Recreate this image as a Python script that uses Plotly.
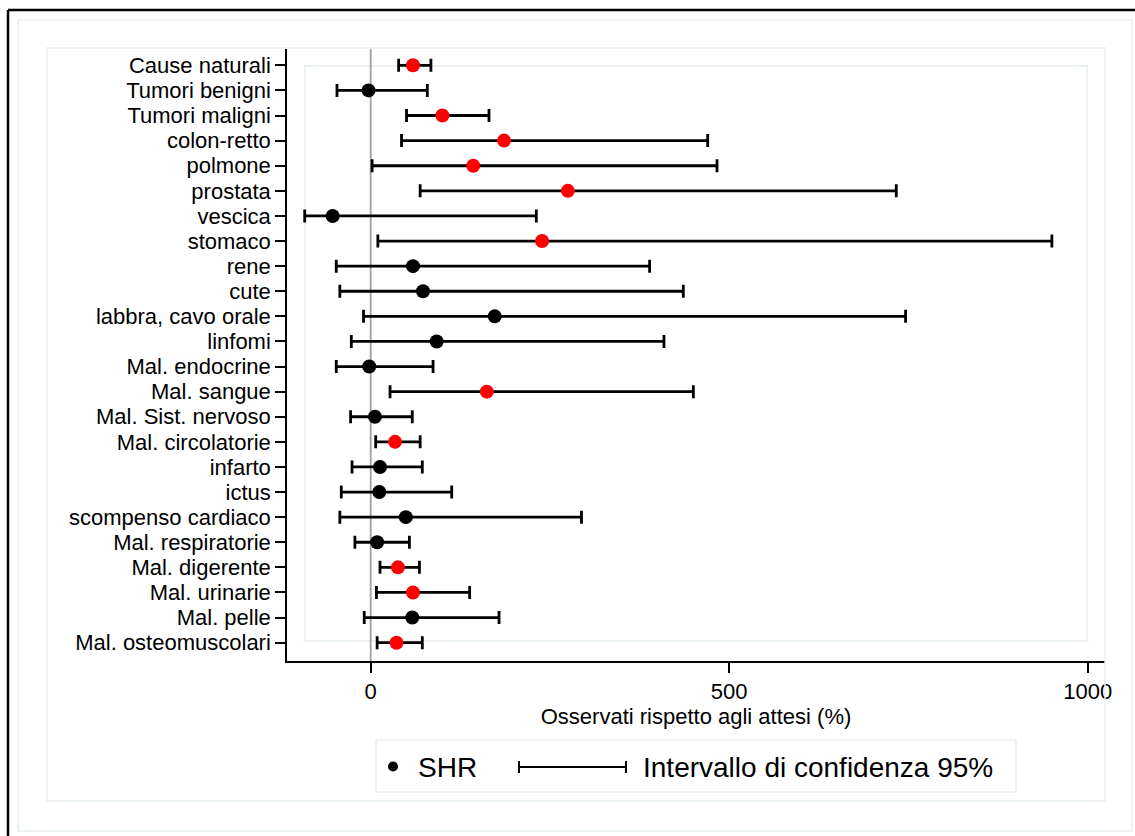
import plotly.graph_objects as go

# Causes of death, top to bottom
causes = [
    "Cause naturali", "Tumori benigni", "Tumori maligni", "colon-retto",
    "polmone", "prostata", "vescica", "stomaco", "rene", "cute",
    "labbra, cavo orale", "linfomi", "Mal. endocrine", "Mal. sangue",
    "Mal. Sist. nervoso", "Mal. circolatorie", "infarto", "ictus",
    "scompenso cardiaco", "Mal. respiratorie", "Mal. digerente",
    "Mal. urinarie", "Mal. pelle", "Mal. osteomuscolari",
]
# Observed vs expected (%), point estimate and 95% CI bounds
shr = [59, -3, 100, 186, 143, 275, -53, 239, 59, 73, 173, 92, -2, 162,
       6, 34, 13, 12, 49, 9, 38, 59, 58, 36]
ci_low = [39, -47, 50, 43, 2, 69, -92, 10, -48, -43, -10, -27, -48, 27,
          -28, 7, -26, -41, -43, -22, 13, 8, -9, 9]
ci_high = [84, 79, 165, 470, 483, 733, 231, 950, 389, 436, 746, 409, 87, 450,
           58, 69, 72, 113, 294, 54, 68, 138, 179, 72]
x_ticks = [0, 500, 1000]

W, H = 1135, 836
ML, MT, MR, MB = 287, 49, 30, 175
PW, PH = W - ML - MR, H - MT - MB

def px(x):
    return (x - ML) / PW

def py(y):
    return 1 - (y - MT) / PH

FONT = "Liberation Sans, Arial, sans-serif"
colors = ["#ff0000" if lo > 0 else "#000000" for lo in ci_low]

fig = go.Figure()
fig.add_trace(go.Scatter(
    x=shr, y=causes, mode="markers",
    marker=dict(size=14, color=colors, line=dict(width=0)),
    error_x=dict(
        type="data", symmetric=False,
        array=[h - s for h, s in zip(ci_high, shr)],
        arrayminus=[s - l for s, l in zip(shr, ci_low)],
        color="#000000", thickness=2.8, width=6.5,
    ),
    showlegend=False,
))

light = "#e6eef0"
shapes = [
    # outer frame
    dict(type="line", xref="paper", yref="paper", x0=px(8), x1=px(1140),
         y0=py(10), y1=py(10), line=dict(color="black", width=2.5)),
    dict(type="line", xref="paper", yref="paper", x0=px(8), x1=px(8),
         y0=py(10), y1=py(840), line=dict(color="black", width=2.5)),
    # graph region boxes
    dict(type="rect", xref="paper", yref="paper", x0=px(18), x1=px(1132),
         y0=py(20), y1=py(831), line=dict(color=light, width=1.5)),
    dict(type="rect", xref="paper", yref="paper", x0=px(47), x1=px(1105),
         y0=py(48), y1=py(801), line=dict(color=light, width=1.5)),
    # plot region box
    dict(type="rect", xref="paper", yref="paper", x0=px(305), x1=px(1087),
         y0=py(66), y1=py(641), line=dict(color=light, width=1.5),
         layer="below"),
    # reference line at zero
    dict(type="line", xref="x", yref="paper", x0=0, x1=0, y0=0, y1=1,
         line=dict(color="#a0a0a0", width=1.8), layer="below"),
    # legend box
    dict(type="rect", xref="paper", yref="paper", x0=px(376), x1=px(1016),
         y0=py(740), y1=py(792), line=dict(color=light, width=1.5)),
    # legend marker
    dict(type="circle", xref="paper", yref="paper", x0=px(388), x1=px(398),
         y0=py(761.5), y1=py(771.5), fillcolor="black",
         line=dict(color="black", width=0)),
    # legend CI symbol
    dict(type="line", xref="paper", yref="paper", x0=px(519), x1=px(626),
         y0=py(767), y1=py(767), line=dict(color="black", width=2)),
    dict(type="line", xref="paper", yref="paper", x0=px(519), x1=px(519),
         y0=py(761), y1=py(773), line=dict(color="black", width=2)),
    dict(type="line", xref="paper", yref="paper", x0=px(626), x1=px(626),
         y0=py(761), y1=py(773), line=dict(color="black", width=2)),
]

annotations = [
    dict(text="SHR", xref="paper", yref="paper", x=px(416), y=py(767),
         xanchor="left", yanchor="middle", showarrow=False,
         font=dict(family=FONT, size=28, color="black")),
    dict(text="Intervallo di confidenza 95%", xref="paper", yref="paper",
         x=px(641), y=py(767), xanchor="left", yanchor="middle",
         showarrow=False, font=dict(family=FONT, size=28, color="black")),
]

n = len(causes)
fig.update_layout(
    width=W, height=H,
    margin=dict(l=ML, r=MR, t=MT, b=MB, pad=0),
    paper_bgcolor="white", plot_bgcolor="white",
    font=dict(family=FONT, color="black"),
    shapes=shapes, annotations=annotations,
    xaxis=dict(
        range=[-116.7, 1024.1], tickmode="array", tickvals=x_ticks,
        ticktext=[str(t) for t in x_ticks],
        showgrid=False, zeroline=False,
        showline=True, linecolor="black", linewidth=1.5,
        ticks="outside", ticklen=10, tickwidth=1.5, tickcolor="black",
        tickfont=dict(family=FONT, size=22, color="black"),
        title=dict(text="Osservati rispetto agli attesi (%)", standoff=0,
                   font=dict(family=FONT, size=22, color="black")),
    ),
    yaxis=dict(
        type="category", categoryorder="array", categoryarray=causes,
        tickmode="array", tickvals=causes, ticktext=causes,
        range=[n - 1 + 0.73, -0.65],
        showgrid=False, zeroline=False,
        showline=True, linecolor="black", linewidth=1.5,
        ticks="outside", ticklen=10, tickwidth=1.5, tickcolor="black",
        tickfont=dict(family=FONT, size=22, color="black"),
    ),
)

fig.write_html("out.html")
